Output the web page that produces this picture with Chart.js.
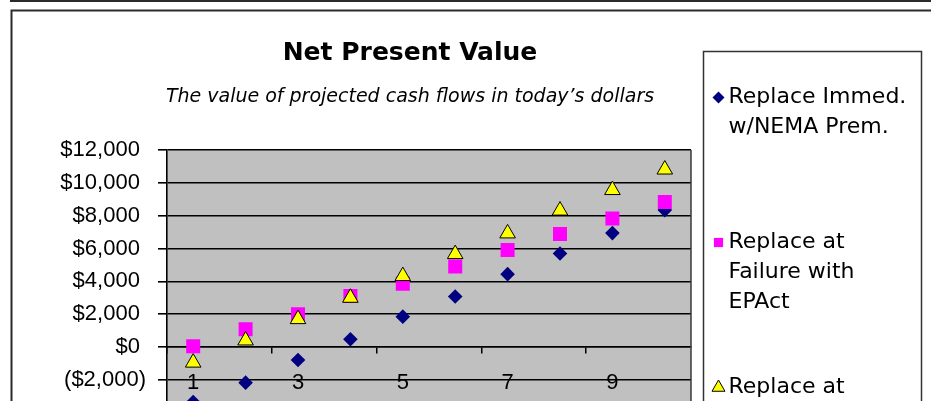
<!DOCTYPE html>
<html>
<head>
<meta charset="utf-8">
<title>Net Present Value</title>
<script src="https://cdn.jsdelivr.net/npm/chart.js@4.4.1/dist/chart.umd.min.js"></script>
<style>
  html, body { margin: 0; padding: 0; overflow: hidden; background: #fff; }
  #wrap { position: relative; width: 931px; height: 440px; }
</style>
</head>
<body>
<div id="wrap"><canvas id="npv" width="931" height="440"></canvas></div>
<script>
// Years of the analysis
const years = ['1', '2', '3', '4', '5', '6', '7', '8', '9', '10'];

// Net present value per scenario, in dollars
const replaceImmedNema = [-3350, -2170, -790, 470, 1850, 3080, 4440, 5700, 6940, 8340];
const replaceFailureEpact = [50, 1085, 2000, 3110, 3860, 4910, 5910, 6890, 7830, 8840];
const replaceFailureNema = [-950, 400, 1700, 3000, 4320, 5660, 6920, 8310, 9560, 10810];

// Legend wording (wrapped as in the side legend)
const nameImmedNema = ['Replace Immed.', 'w/NEMA Prem.'];
const nameFailureEpact = ['Replace at', 'Failure with', 'EPAct'];
const nameFailureNema = ['Replace at', 'Failure with', 'NEMA Prem.'];

// Value axis range
const yMin = -4000;
const yMax = 12000;
const yStep = 2000;

const money = v => v < 0
  ? '($' + Math.abs(v).toLocaleString('en-US') + ')'
  : '$' + v.toLocaleString('en-US') + '\u00a0';

// White page, outer frame and grey plotting area
const frame = {
  id: 'frame',
  beforeDraw(chart) {
    const { ctx, chartArea: a, width, height } = chart;
    ctx.save();
    ctx.fillStyle = '#fff';
    ctx.fillRect(0, 0, width, height);
    ctx.strokeStyle = '#2b2b2b';
    ctx.lineWidth = 2;
    ctx.beginPath();
    ctx.moveTo(10, 1);
    ctx.lineTo(width, 1);
    ctx.stroke();
    ctx.strokeRect(11.5, 10.5, width, height);
    ctx.fillStyle = '#c0c0c0';
    ctx.fillRect(a.left, a.top, a.right - a.left, a.bottom - a.top);
    ctx.restore();
  },
  beforeDatasetsDraw(chart) {
    const { ctx, chartArea: a } = chart;
    ctx.save();
    ctx.strokeStyle = '#3a3a3a';
    ctx.lineWidth = 1.5;
    ctx.beginPath();
    ctx.moveTo(a.right, a.top);
    ctx.lineTo(a.right, a.bottom);
    ctx.stroke();
    ctx.restore();
  }
};

// Boxed legend at the right, one multi-line entry per series
const sideLegend = {
  id: 'sideLegend',
  afterDraw(chart) {
    const { ctx, chartArea: a, height } = chart;
    const left = a.right + 12.5;
    const top = 51.5;
    const w = 218;
    ctx.save();
    ctx.fillStyle = '#fff';
    ctx.fillRect(left, top, w, height);
    ctx.strokeStyle = '#333';
    ctx.lineWidth = 1.5;
    ctx.strokeRect(left, top, w, height);
    ctx.font = '22px "DejaVu Sans"';
    ctx.textBaseline = 'middle';
    ctx.textAlign = 'left';
    const entries = chart.data.datasets.slice().sort((p, q) => p.legendRank - q.legendRank);
    entries.forEach((ds, i) => {
      const y = top + 46 + i * 145;
      ctx.fillStyle = ds.pointBackgroundColor;
      ctx.strokeStyle = ds.pointBorderColor;
      ctx.lineWidth = ds.pointBorderWidth;
      Chart.helpers.drawPoint(ctx, {
        pointStyle: ds.pointStyle,
        radius: ds.legendRadius,
        rotation: 0,
        borderWidth: ds.pointBorderWidth
      }, left + 15, y);
      ctx.fillStyle = '#000';
      ds.label.forEach((line, k) => ctx.fillText(line, left + 25, y + k * 30));
    });
    ctx.restore();
  }
};

const tickFont = { family: '"Liberation Sans", Arial, sans-serif', size: 22 };

new Chart(document.getElementById('npv'), {
  type: 'line',
  data: {
    labels: years,
    datasets: [
      {
        label: nameImmedNema,
        data: replaceImmedNema,
        showLine: false,
        pointStyle: 'rectRot',
        pointRadius: 7.3,
        pointHoverRadius: 7.3,
        pointBackgroundColor: '#000080',
        pointBorderColor: '#000080',
        pointBorderWidth: 0,
        legendRadius: 6,
        legendRank: 0,
        order: 2
      },
      {
        label: nameFailureEpact,
        data: replaceFailureEpact,
        showLine: false,
        pointStyle: 'rect',
        pointRadius: 9.9,
        pointHoverRadius: 9.9,
        pointBackgroundColor: '#ff00ff',
        pointBorderColor: '#ff00ff',
        pointBorderWidth: 0,
        legendRadius: 6.5,
        legendRank: 1,
        order: 1
      },
      {
        label: nameFailureNema,
        data: replaceFailureNema,
        showLine: false,
        pointStyle: 'triangle',
        pointRadius: 9,
        pointHoverRadius: 9,
        pointBackgroundColor: '#ffff00',
        pointBorderColor: '#000',
        pointBorderWidth: 1,
        legendRadius: 7.5,
        legendRank: 2,
        order: 0
      }
    ]
  },
  options: {
    responsive: false,
    animation: false,
    events: [],
    layout: { padding: { top: 10, left: 50, right: 161, bottom: 27.3 } },
    plugins: {
      legend: { display: false },
      tooltip: { enabled: false },
      title: {
        display: true,
        text: 'Net Present Value',
        color: '#000',
        font: { family: '"DejaVu Sans", sans-serif', size: 25, weight: 'bold', lineHeight: 1.2 },
        padding: { top: 28, bottom: 0 }
      },
      subtitle: {
        display: true,
        text: 'The value of projected cash flows in today\u2019s dollars',
        color: '#000',
        font: { family: '"DejaVu Sans", sans-serif', size: 19, style: 'italic', lineHeight: 1.2 },
        padding: { top: 17.6, bottom: 41.6 }
      }
    },
    scales: {
      x: {
        type: 'category',
        position: { y: 0 },
        offset: true,
        grid: {
          offset: true,
          drawOnChartArea: false,
          drawTicks: true,
          tickLength: 6,
          lineWidth: 1.5,
          color: c => (c.index % 2 === 0 ? '#000' : 'rgba(0,0,0,0)')
        },
        border: { display: true, color: '#000', width: 1.5 },
        ticks: {
          autoSkip: false,
          maxRotation: 0,
          padding: 17,
          color: '#000',
          font: tickFont,
          callback(value, index) { return index % 2 === 0 ? this.getLabelForValue(value) : ''; }
        }
      },
      y: {
        min: yMin,
        max: yMax,
        afterFit(scale) { scale.width = 117; },
        grid: { color: '#000', lineWidth: 1.6, tickLength: 9 },
        border: { display: true, color: '#000', width: 1.6 },
        ticks: {
          stepSize: yStep,
          padding: 12,
          color: '#000',
          font: tickFont,
          callback: v => money(v)
        }
      },
      // empty strip between the plot and the legend column
      gutter: {
        type: 'linear',
        axis: 'y',
        position: 'right',
        afterFit(scale) { scale.width = 79; },
        grid: { display: false },
        border: { display: false },
        ticks: { display: false }
      }
    }
  },
  plugins: [frame, sideLegend]
});
</script>
</body>
</html>
